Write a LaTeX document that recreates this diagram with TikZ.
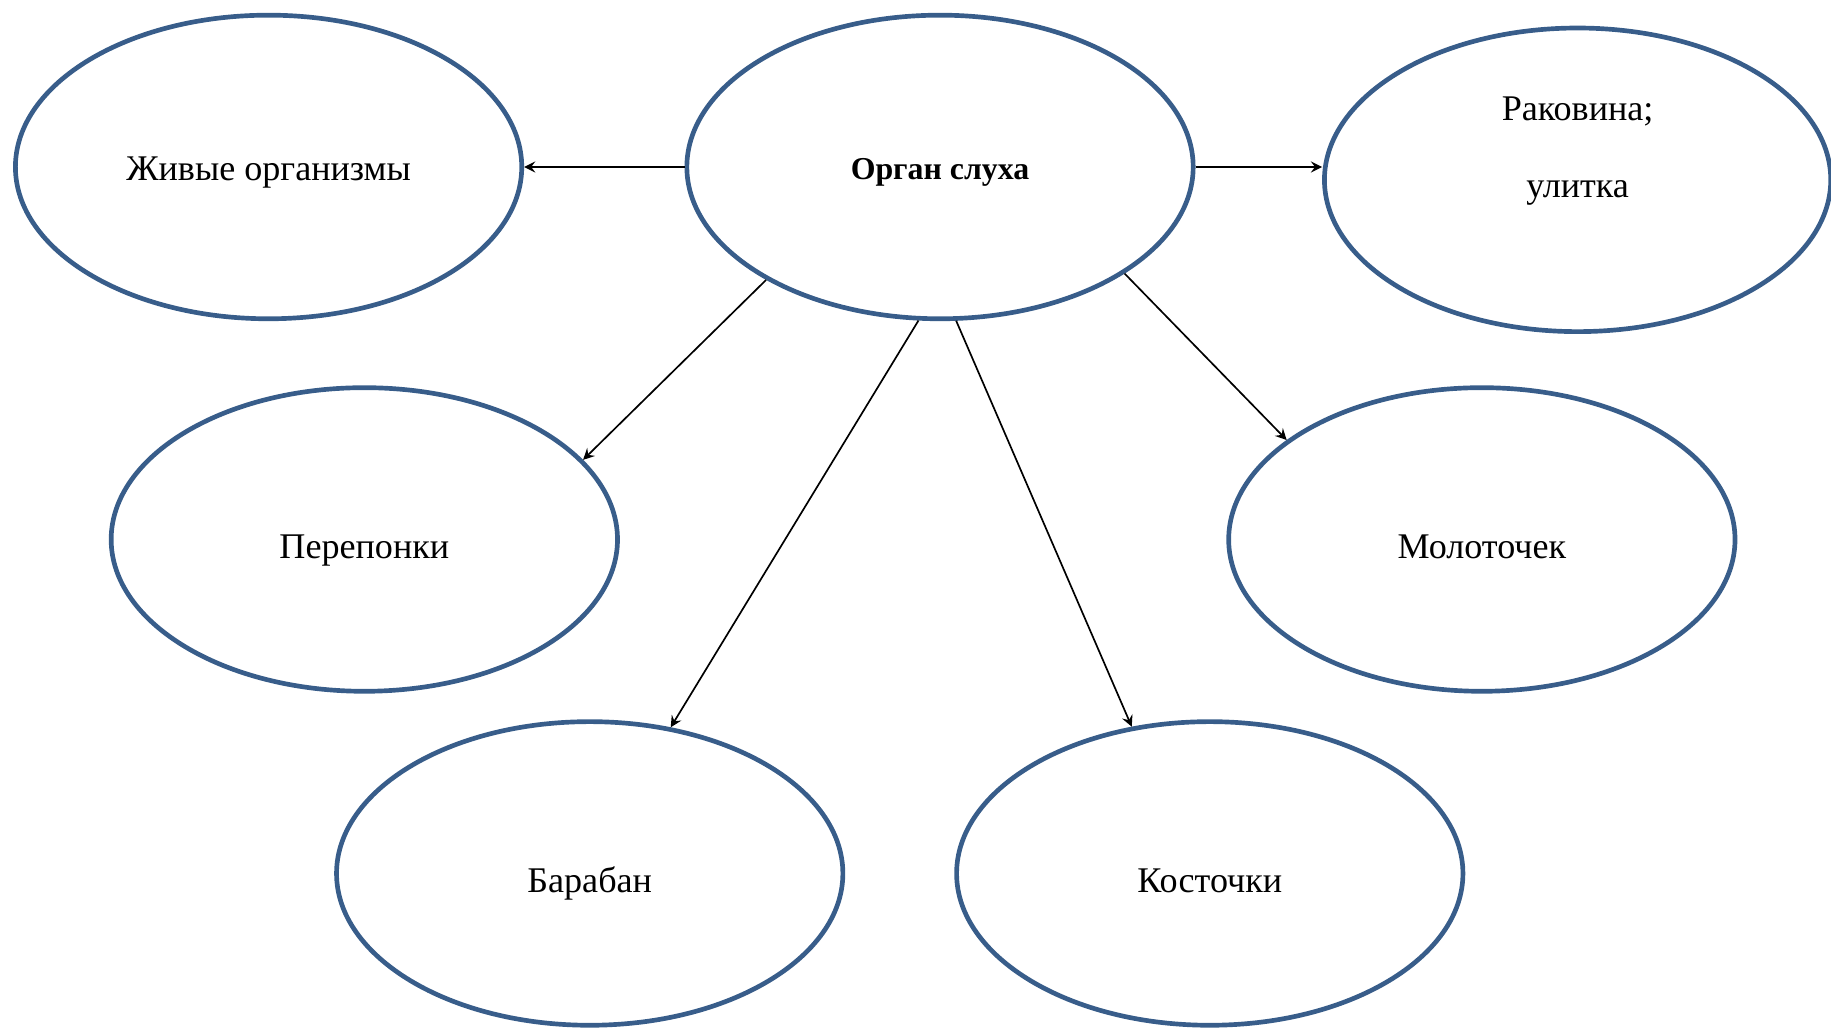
\documentclass[tikz,border=0pt]{standalone}
\usepackage{fontspec}
\setmainfont{Liberation Serif}
\usetikzlibrary{shapes.geometric, arrows}
\definecolor{rim}{RGB}{56,93,138}
\tikzset{
	>=stealth,
	oval/.style={ellipse, draw=rim, line width=0.5mm, minimum width=54.2mm, minimum height=32.5mm, inner sep=0pt, align=center, text height=11.5pt, text depth=0pt, font=\fontsize{11}{23.4}\selectfont},
	link/.style={draw, ->, line width=0.18mm}
}

\begin{document}
\begin{tikzpicture}[x=0.125mm, y=-0.125mm]
	\useasboundingbox (0,0) rectangle (1568,880);
	
	\node[oval, font=\fontsize{9.7}{12}\selectfont, text height=7.5pt] (organ) at (805,143) {\textbf{Орган слуха}};
	\node[oval, text height=8pt] (liv) at (230,143) {Живые организмы};
	\node[oval, label={[align=center, font=\fontsize{11}{23.4}\selectfont, yshift=3.1mm]center:Раковина;\\улитка}] (rak) at (1351,154) {};
	\node[oval] (perep) at (312,462) {Перепонки};
	\node[oval] (molot) at (1269,462) {Молоточек};
	\node[oval] (baraban) at (505,748) {Барабан};
	\node[oval] (kost) at (1036,748) {Косточки};
	
	\path
	(organ.west) edge[link] (liv.east)
	(organ.east) edge[link] (organ.east -| rak.west)
	(organ.213.7) edge[link] (perep.20.8)
	(organ.262.2) edge[link] (baraban.61)
	(organ.276.1) edge[link] (kost.118)
	(organ.330) edge[link] (molot.153.4)
	;
\end{tikzpicture}
\end{document}
